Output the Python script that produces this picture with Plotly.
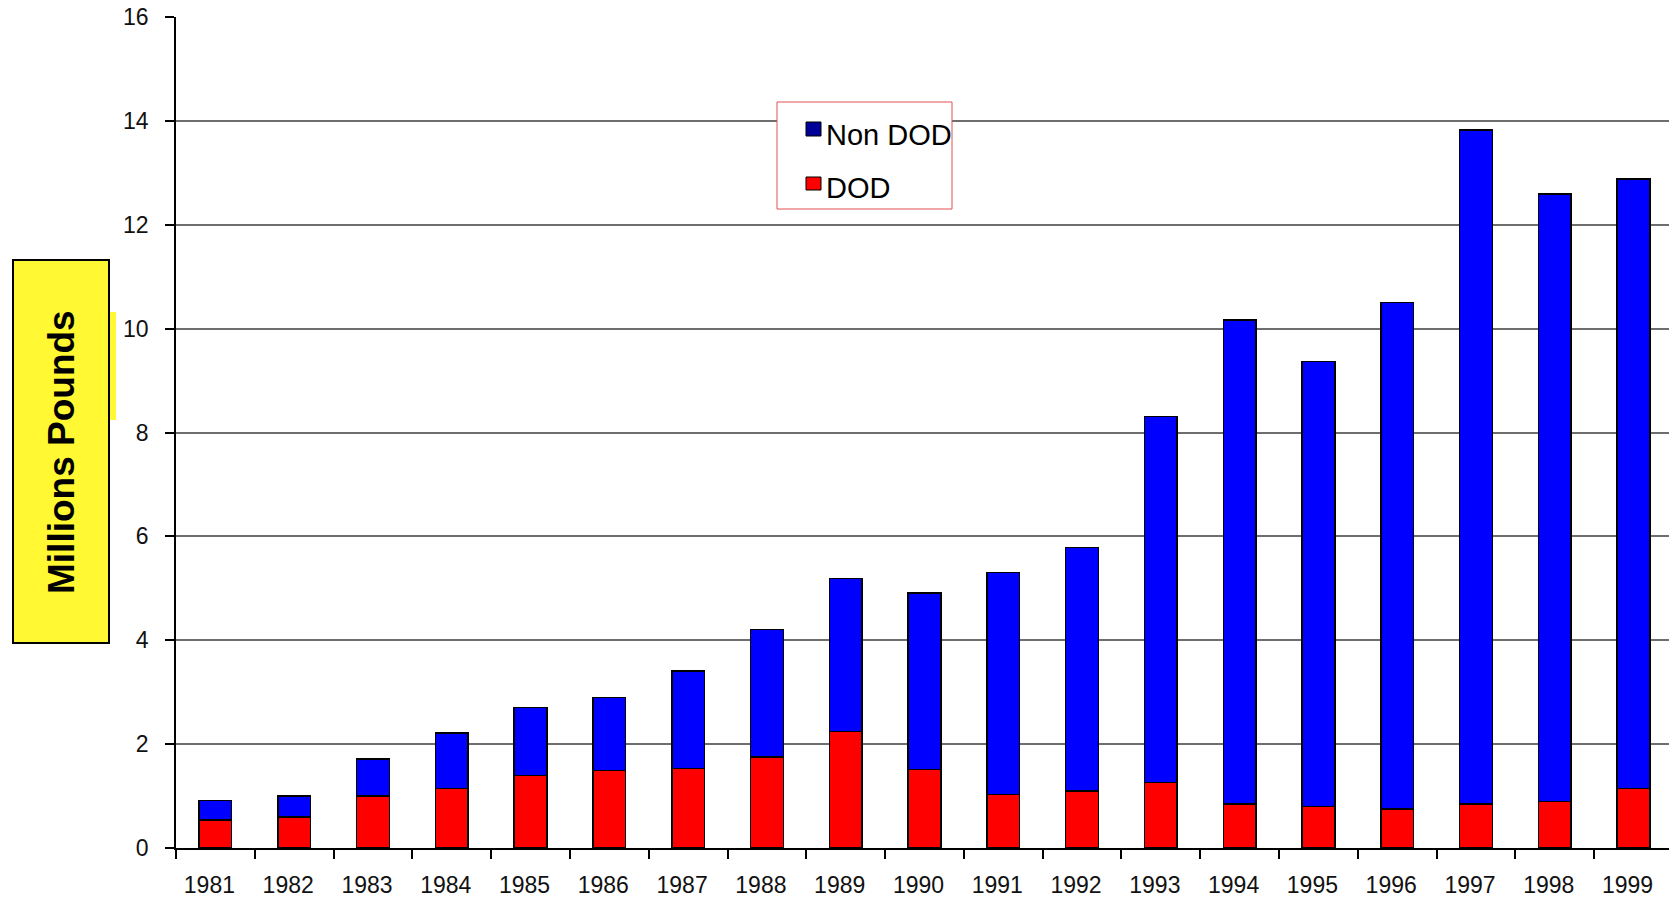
import plotly.graph_objects as go

years = ["1981", "1982", "1983", "1984", "1985", "1986", "1987", "1988", "1989", "1990",
         "1991", "1992", "1993", "1994", "1995", "1996", "1997", "1998", "1999"]
dod = [0.54, 0.60, 1.00, 1.15, 1.40, 1.49, 1.53, 1.75, 2.24, 1.51,
       1.03, 1.10, 1.26, 0.85, 0.80, 0.75, 0.85, 0.90, 1.15]
non_dod = [0.37, 0.40, 0.71, 1.06, 1.31, 1.41, 1.88, 2.46, 2.95, 3.40,
           4.27, 4.69, 7.05, 9.32, 8.57, 9.75, 12.97, 11.69, 11.73]
y_ticks = [0, 2, 4, 6, 8, 10, 12, 14, 16]

W, H = 1669, 901
L, T, B, R = 176, 17, 53, 0
FONT = "Liberation Sans, Arial, sans-serif"


def px(x):
    return (x - L) / (W - L - R)


def py(y):
    return (H - B - y) / (H - B - T)


fig = go.Figure()
fig.add_trace(go.Bar(x=years, y=dod, name="DOD", marker=dict(color="#ff0000", line=dict(color="black", width=1.5)),
                     showlegend=False))
fig.add_trace(go.Bar(x=years, y=non_dod, name="Non DOD", marker=dict(color="#0000ff", line=dict(color="black", width=1.5)),
                     showlegend=False))

shapes = [
    # y-axis title box
    dict(type="rect", xref="paper", yref="paper", x0=px(13), x1=px(109), y0=py(643), y1=py(260),
         fillcolor="#fff833", line=dict(color="black", width=2), layer="above"),
    dict(type="rect", xref="paper", yref="paper", x0=px(110), x1=px(116), y0=py(420), y1=py(312),
         fillcolor="#fff833", line=dict(width=0), layer="above"),
    # legend frame
    dict(type="rect", xref="paper", yref="paper", x0=px(777), x1=px(952), y0=py(209), y1=py(102),
         fillcolor="white", line=dict(color="#e05050", width=1), layer="above"),
    # legend swatches
    dict(type="rect", xref="paper", yref="paper", x0=px(806), x1=px(821), y0=py(136), y1=py(122),
         fillcolor="#000099", line=dict(color="black", width=1), layer="above"),
    dict(type="rect", xref="paper", yref="paper", x0=px(806), x1=px(821), y0=py(190), y1=py(177),
         fillcolor="#ff0000", line=dict(color="black", width=1), layer="above"),
]

annotations = [
    dict(text="<b>Millions Pounds</b>", xref="paper", yref="paper", x=px(61), y=py(452),
         textangle=-90, showarrow=False, font=dict(family=FONT, size=37, color="black"),
         xanchor="center", yanchor="middle"),
    dict(text="Non DOD", xref="paper", yref="paper", x=px(824), y=py(135), showarrow=False,
         font=dict(family=FONT, size=29, color="black"), xanchor="left", yanchor="middle"),
    dict(text="DOD", xref="paper", yref="paper", x=px(824), y=py(188), showarrow=False,
         font=dict(family=FONT, size=29, color="black"), xanchor="left", yanchor="middle"),
]

fig.update_layout(
    width=W, height=H,
    margin=dict(l=L, r=R, t=T, b=B, pad=0),
    barmode="stack",
    bargap=0.585,
    plot_bgcolor="white",
    paper_bgcolor="white",
    font=dict(family=FONT, color="black"),
    shapes=shapes,
    annotations=annotations,
    showlegend=False,
)
fig.update_xaxes(
    type="category",
    range=[-0.5, 18.45],
    tickson="boundaries",
    ticks="outside", ticklen=9, tickcolor="black", tickwidth=1.5,
    showline=True, linecolor="black", linewidth=1.5,
    showgrid=False,
    tickfont=dict(family=FONT, size=23, color="#111111"),
    ticklabelstandoff=16,
    ticklabelshift=-6,
)
fig.update_yaxes(
    range=[0, 16],
    tickvals=y_ticks,
    ticks="outside", ticklen=9, tickcolor="black", tickwidth=1.5,
    showline=True, linecolor="black", linewidth=1.5,
    showgrid=True, gridcolor="#6e6e6e", gridwidth=1.5,
    zeroline=False,
    tickfont=dict(family=FONT, size=23, color="#111111"),
    ticklabelstandoff=12,
)

fig.write_html("out.html")
